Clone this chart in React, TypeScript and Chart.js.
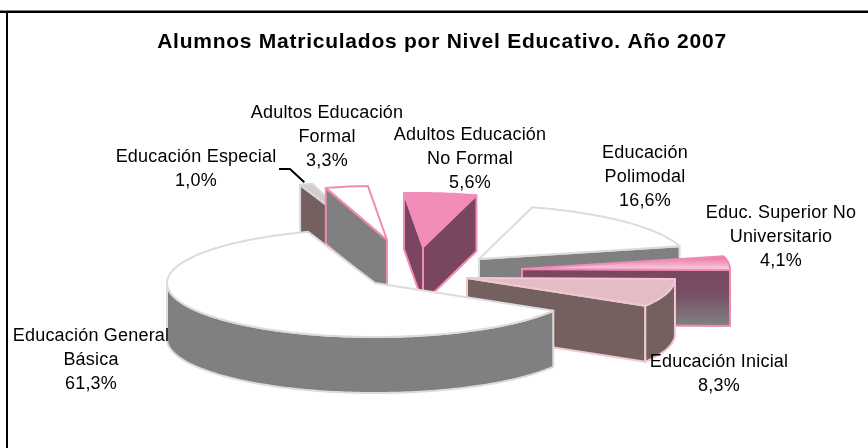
import React, { useEffect, useRef } from "react";
import { Chart, registerables } from "chart.js";

Chart.register(...registerables);

// ---- data ----
const categories = [
  "Educación General Básica",
  "Educación Especial",
  "Adultos Educación Formal",
  "Adultos Educación No Formal",
  "Educación Polimodal",
  "Educ. Superior No Universitario",
  "Educación Inicial",
];
const values = [61.3, 1.0, 3.3, 5.6, 16.6, 4.1, 8.3];
const labelLines = [
  ["Educación General", "Básica"],
  ["Educación Especial"],
  ["Adultos Educación", "Formal"],
  ["Adultos Educación", "No Formal"],
  ["Educación", "Polimodal"],
  ["Educ. Superior No", "Universitario"],
  ["Educación Inicial"],
];
const titleText = "Alumnos Matriculados por Nivel Educativo. Año 2007";

// ---- layout and style ----
const FONT = '"Liberation Sans", Arial, sans-serif';
const PIE_X = 375;
const PIE_Y = 283;
const RX = 208;
const RY = 54;
const DEPTH = 56;
// explosion of each slice from the pie's centre, px
const explodeX = [0, -8, 12, 48, 104, 147, 92];
const explodeY = [0, -47, -43, -36, -24, -14, -5];
// horizontal lean of each slice's back edge (perspective of the original)
const lean = [0, 0, 0.13, 0.13, 0.13, 0.04, 0];
// where each label sits: centre x, vertical middle of the first line
const labelX = [91, 196, 327, 470, 645, 781, 719];
const labelY = [336, 157, 113, 135, 153, 213, 362];
const strokes = ["#dcdcdc", "#d9d9d9", "#f08cb4", "#f28cb8", "#dcdcdc", "#f08cb4", "#f0c8d4"];
const tops = ["#ffffff", "#d5cdcd", "#ffffff", "#f28cb8", "#ffffff", "GRAD", "#e4bcc4"];
const sides = ["#808080", "#756060", "#808080", "#7a4560", "#808080", "GRAD", "#756060"];
const paintOrder = [1, 2, 3, 4, 5, 6, 0];

const pie3d = {
  id: "pie3d",
  beforeDraw(chart: any) {
    (chart.ctx as any).letterSpacing = "0.75px";
  },
  beforeDatasetsDraw(chart: any) {
    const ctx = chart.ctx as CanvasRenderingContext2D;
    const arcs = chart.getDatasetMeta(0).data as any[];

    const paint = (fill: any, stroke: string, path: () => void) => {
      ctx.beginPath();
      path();
      ctx.closePath();
      ctx.fillStyle = fill;
      ctx.fill();
      ctx.lineWidth = 2;
      ctx.lineJoin = "round";
      ctx.strokeStyle = stroke;
      ctx.stroke();
    };

    ctx.save();
    for (const i of paintOrder) {
      const arc = arcs[i];
      const s = arc.startAngle;
      const e = arc.endAngle;
      const ax = PIE_X + explodeX[i];
      const ay = PIE_Y + explodeY[i];
      const px = (a: number) => ax + RX * Math.cos(a) + lean[i] * RY * Math.sin(a);
      const py = (a: number) => ay + RY * Math.sin(a);
      const stroke = strokes[i];

      // walks the rim from angle a to angle b, dz below the top face
      const rim = (a: number, b: number, dz: number) => {
        const n = Math.max(2, Math.ceil(Math.abs(b - a) / 0.02));
        for (let k = 0; k <= n; k++) {
          const t = a + ((b - a) * k) / n;
          ctx.lineTo(px(t), py(t) + dz);
        }
      };

      let side: any = sides[i];
      let top: any = tops[i];
      if (side === "GRAD") {
        const g = ctx.createLinearGradient(0, ay, 0, ay + DEPTH);
        g.addColorStop(0, "#7a4560");
        g.addColorStop(0.45, "#784f64");
        g.addColorStop(1, "#808080");
        side = g;
      }
      if (top === "GRAD") {
        const g = ctx.createLinearGradient(0, py(s), 0, py(e));
        g.addColorStop(0, "#ee6fa2");
        g.addColorStop(1, "#f6d5e2");
        top = g;
      }

      const quad = (a: number) => () => {
        ctx.moveTo(ax, ay);
        ctx.lineTo(px(a), py(a));
        ctx.lineTo(px(a), py(a) + DEPTH);
        ctx.lineTo(ax, ay + DEPTH);
      };
      // cut faces turned towards the viewer
      if (Math.cos(s) < 0) paint(side, stroke, quad(s));
      if (Math.cos(e) > 0) paint(side, stroke, quad(e));

      // rim: only the part of the arc in the lower half of the ellipse
      const norm = (a: number) => ((a % (2 * Math.PI)) + 2 * Math.PI) % (2 * Math.PI);
      const from = norm(s);
      const to = Math.min(from + (e - s), Math.PI);
      if (from < Math.PI && to > from) {
        paint(side, stroke, () => {
          rim(from, to, 0);
          rim(to, from, DEPTH);
        });
      }

      // top face
      paint(top, stroke, () => {
        ctx.moveTo(ax, ay);
        rim(s, e, 0);
      });
    }

    // leader of "Educación Especial"
    const lead = arcs[1];
    const mid = (lead.startAngle + lead.endAngle) / 2;
    const lx = PIE_X + explodeX[1] + RX * Math.cos(mid);
    const ly = PIE_Y + explodeY[1] + RY * Math.sin(mid);
    ctx.beginPath();
    ctx.moveTo(279, 169);
    ctx.lineTo(290, 169);
    ctx.lineTo(lx - 2, ly - 2);
    ctx.strokeStyle = "#000000";
    ctx.lineWidth = 2;
    ctx.stroke();

    // labels
    ctx.fillStyle = "#000000";
    ctx.font = `18px ${FONT}`;
    ctx.textAlign = "center";
    ctx.textBaseline = "middle";
    (ctx as any).letterSpacing = "0.2px";
    values.forEach((v, i) => {
      const lines = [...labelLines[i], `${v.toFixed(1).replace(".", ",")}%`];
      lines.forEach((t, k) => ctx.fillText(t, labelX[i], labelY[i] + k * 24));
    });
    ctx.restore();
    return false;
  },
  afterDraw(chart: any) {
    const ctx = chart.ctx as CanvasRenderingContext2D;
    ctx.save();
    ctx.fillStyle = "#000000";
    ctx.fillRect(0, 11, 868, 2);
    ctx.fillRect(6, 11, 2, 437);
    ctx.fillStyle = "#808080";
    ctx.fillRect(0, 10, 868, 1);
    ctx.restore();
  },
};

export default function App() {
  const ref = useRef<HTMLCanvasElement>(null);
  useEffect(() => {
    document.body.style.margin = "0";
    const chart = new Chart(ref.current!, {
      type: "pie",
      data: {
        labels: categories,
        datasets: [{ data: values, backgroundColor: tops.map((c) => (c === "GRAD" ? "#f08cb4" : c)), borderColor: strokes }],
      },
      options: {
        responsive: false,
        animation: false,
        rotation: 121,
        layout: { padding: { left: 16, top: 30 } },
        plugins: {
          legend: { display: false },
          tooltip: { enabled: false },
          title: {
            display: true,
            text: titleText,
            color: "#000000",
            font: { family: FONT, size: 21, weight: "bold" },
            padding: 0,
          },
        },
      } as any,
      plugins: [pie3d],
    });
    return () => chart.destroy();
  }, []);
  return <canvas ref={ref} width={868} height={448} style={{ display: "block" }} />;
}
